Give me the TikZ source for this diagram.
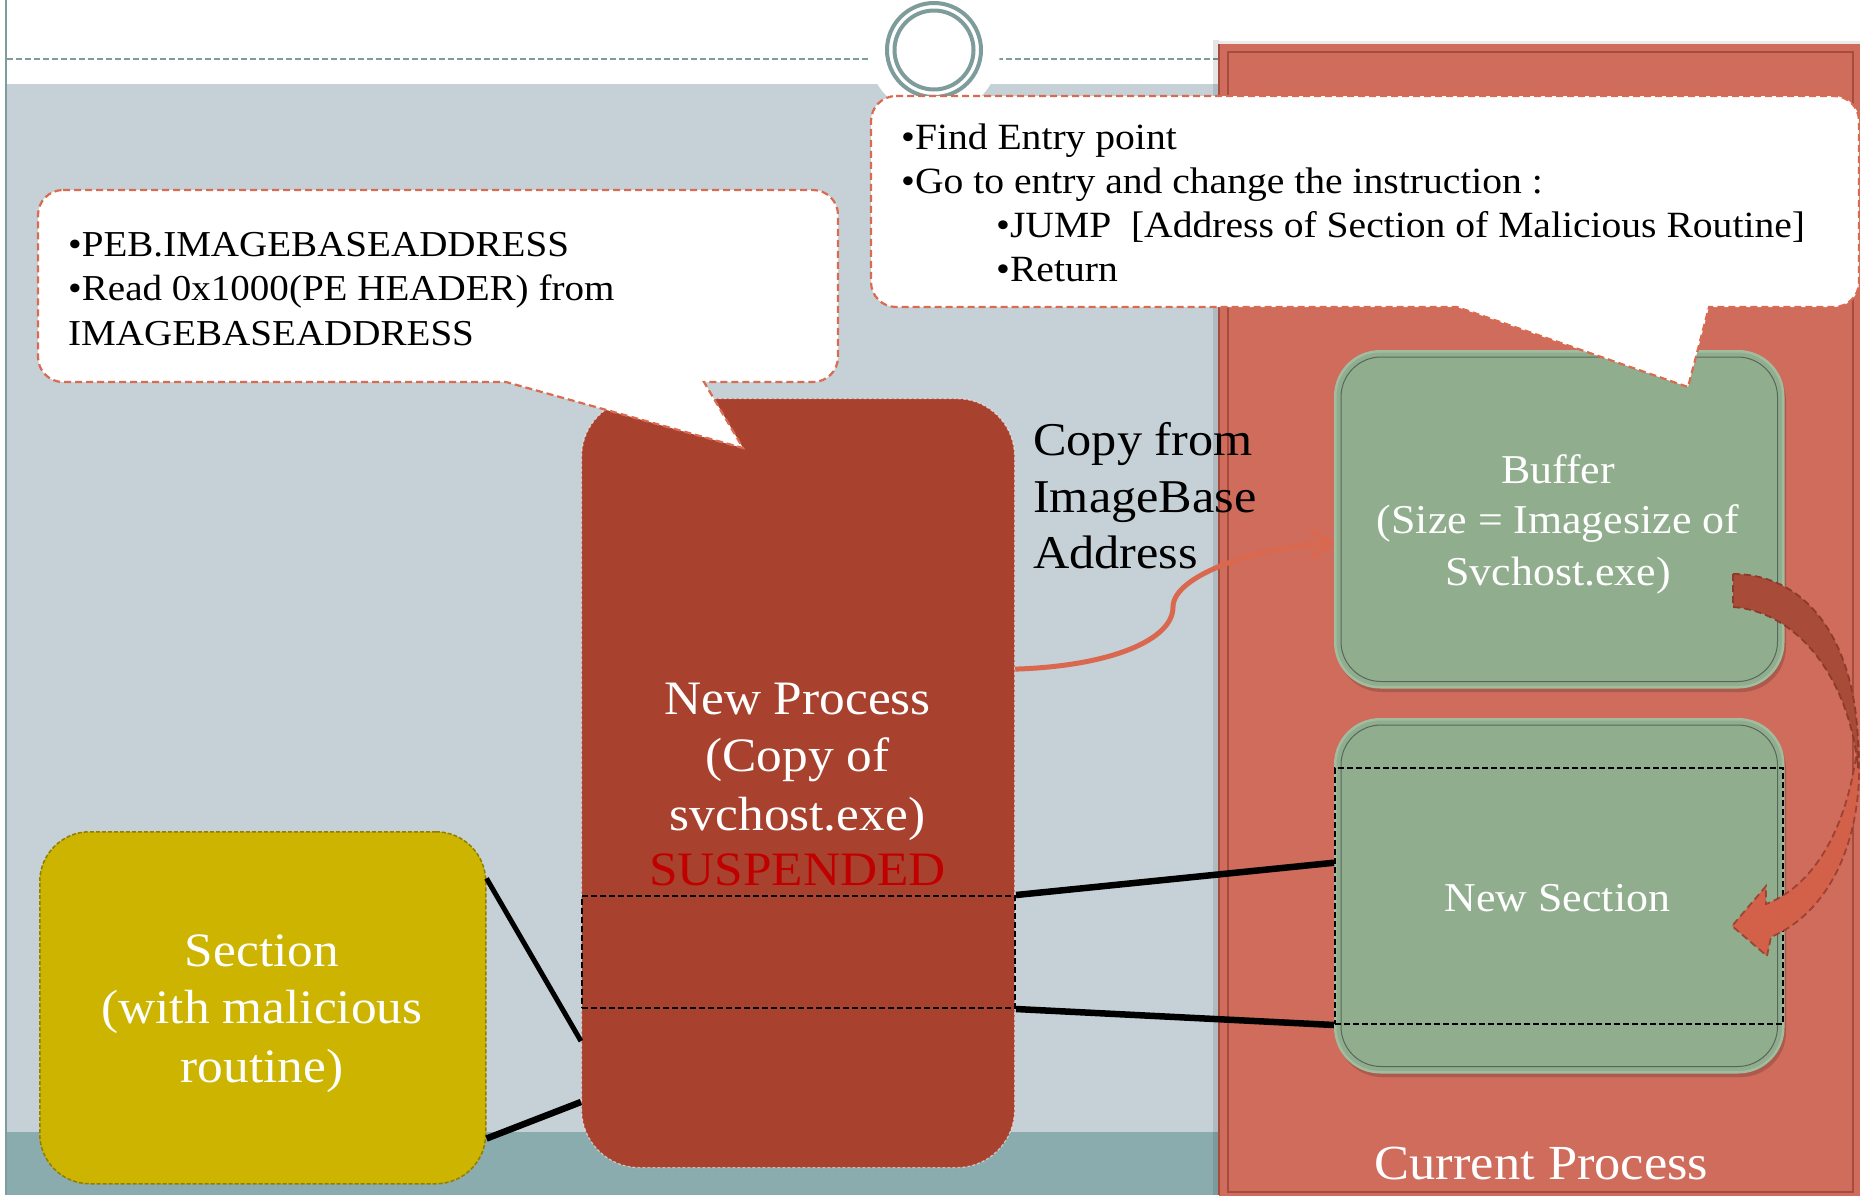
\documentclass[tikz,border=0pt]{standalone}
\usepackage{fontspec}
\setmainfont{Liberation Serif}[FakeStretch=1.07]
\usetikzlibrary{arrows.meta,calc}

\definecolor{slate}{HTML}{C5D1D7}
\definecolor{tealstrip}{HTML}{8BACAE}
\definecolor{rulegray}{HTML}{7E9C9B}
\definecolor{panel}{HTML}{CF6C5C}
\definecolor{panelline}{HTML}{A54C3E}
\definecolor{npfill}{HTML}{A8422E}
\definecolor{secfill}{HTML}{CCB400}
\definecolor{secline}{HTML}{8F7E00}
\definecolor{greenfill}{HTML}{90AE8E}
\definecolor{greenrim}{HTML}{A2BC9F}
\definecolor{greenline}{HTML}{56665A}
\definecolor{callline}{HTML}{DA6A50}
\definecolor{connc}{HTML}{D9684E}
\definecolor{arrowdark}{HTML}{A84C39}
\definecolor{arrowlight}{HTML}{D3614A}
\definecolor{arrowedge}{HTML}{8E3A2B}
\definecolor{suspred}{HTML}{C00000}

\tikzset{
  callout/.style={fill=white, draw=callline, line width=2.2pt, dash pattern=on 7pt off 4pt},
  calltext/.style={anchor=base west, inner sep=0pt, font=\fontsize{37}{44}\selectfont},
  boxtext/.style={anchor=base, inner sep=0pt, text=white},
  bigfont/.style={font=\fontsize{48}{57}\selectfont},
  midfont/.style={font=\fontsize{41}{50}\selectfont},
  greenbox/.style={rectangle, rounded corners=45pt, fill=greenfill, draw=greenrim,
    line width=2.5pt, minimum width=448pt, anchor=north west, inner sep=0pt},
  innerrim/.style={draw=greenline, line width=1pt, rounded corners=40pt},
  boxshadow/.style={fill=black, opacity=0.16, rounded corners=45pt},
  sectrect/.style={rectangle, draw=black, line width=2pt, dash pattern=on 6pt off 3pt,
    anchor=north west, inner sep=0pt},
  link/.style={draw=black, line width=6.5pt},
  conn/.style={draw=connc, line width=5pt, -{Straight Barb[length=18pt,width=26pt]}},
  ribbonedge/.style={draw=arrowedge, line width=1.8pt, dash pattern=on 7pt off 4pt},
}

\begin{document}
\begin{tikzpicture}[x=1pt,y=-1pt]
% page
\useasboundingbox (0,0) rectangle (1860,1195);
\fill[white] (0,0) rectangle (1860,1195);

% slide background bands
\fill[slate] (7,84) rectangle (1219,1132);
\fill[tealstrip] (7,1132) rectangle (1219,1195);
\draw[rulegray, line width=2pt] (6,0) -- (6,1195);
\draw[rulegray, line width=2pt, dash pattern=on 6pt off 3pt] (7,59) -- (1219,59);

% title ring with its white halo
\fill[white] (934,50) circle[radius=66];
\draw[rulegray, line width=4pt] (934,50) circle[radius=47];
\draw[rulegray, line width=4pt] (934,50) circle[radius=39.5];

% current process panel
\fill[black, opacity=0.10] (1213,40) rectangle (1219,1195);
\fill[black, opacity=0.08] (1219,41) rectangle (1860,44);
\fill[panel] (1219,44) rectangle (1870,1205);
\draw[panelline, line width=1.2pt] (1219,44) -- (1219,1195);
\draw[panelline, line width=1.8pt] (1228,52) rectangle (1853,1192);
\node[boxtext, font=\fontsize{49}{58}\selectfont] (curlabel) at (1541.5,1179) {Current Process};

% buffer and new section boxes
\fill[boxshadow] (1337,356) rectangle (1786,692);
\node[greenbox, minimum height=336pt] (buf) at (1334,350) {};
\draw[innerrim] ($(buf.north west)+(7,7)$) rectangle ($(buf.south east)+(-7,-7)$);
\fill[boxshadow] (1337,724) rectangle (1786,1077);
\node[greenbox, minimum height=353pt] (ns) at (1334,718) {};
\draw[innerrim] ($(ns.north west)+(7,7)$) rectangle ($(ns.south east)+(-7,-7)$);
\node[sectrect, minimum width=448pt, minimum height=256pt] (nssec) at (1334,767) {};

\node[boxtext, midfont] (buf1) at (1558,483) {Buffer};
\node[boxtext, midfont] (buf2) at (1558,533) {(Size = Imagesize of};
\node[boxtext, midfont] (buf3) at (1558,585) {Svchost.exe)};
\node[boxtext, midfont] (nslabel) at (1557.5,911) {New Section};

% new process box
\node[rectangle, rounded corners=58pt, fill=npfill, draw=white, draw opacity=0.55,
  line width=1.2pt, dash pattern=on 3pt off 2pt, minimum width=433pt, minimum height=769pt,
  anchor=north west, inner sep=0pt] (np) at (581,398) {};
\node[sectrect, minimum width=433pt, minimum height=112pt] (npsec) at (581,895) {};
\node[boxtext, bigfont] (np1) at (797.5,714) {New Process};
\node[boxtext, bigfont] (np2) at (797.5,771) {(Copy of};
\node[boxtext, bigfont] (np3) at (797.5,830) {svchost.exe)};
\node[boxtext, bigfont, text=suspred] (np4) at (797.5,885) {SUSPENDED};

% section with the malicious routine
\node[rectangle, rounded corners=50pt, fill=secfill, draw=secline, line width=1.5pt,
  dash pattern=on 4pt off 2pt, minimum width=446pt, minimum height=352pt,
  anchor=north west, inner sep=0pt] (sec) at (39,831) {};
\node[boxtext, bigfont] (sec1) at (262,966) {Section};
\node[boxtext, bigfont] (sec2) at (262,1023) {(with malicious};
\node[boxtext, bigfont] (sec3) at (262,1082) {routine)};

% mapping lines
\draw[link] (npsec.north east) -- ($(nssec.north west)!0.371!(nssec.south west)$);
\draw[link] (npsec.south east) -- (nssec.south west);
\draw[link, line width=5pt] ($(sec.north east)!0.134!(sec.south east)$) -- ($(np.north west)!0.835!(np.south west)$);
\draw[link] ($(sec.north east)!0.87!(sec.south east)$) -- ($(np.north west)!0.914!(np.south west)$);

% copy arrow
\node[anchor=base west, inner sep=0pt, font=\fontsize{47}{56}\selectfont] (cp1) at (1033,455) {Copy from};
\node[anchor=base west, inner sep=0pt, font=\fontsize{47}{56}\selectfont] (cp2) at (1033,512) {ImageBase};
\node[anchor=base west, inner sep=0pt, font=\fontsize{47}{56}\selectfont] (cp3) at (1033,568) {Address};
\coordinate (bend) at (1173,607);
\draw[conn] ($(np.north east)!0.352!(np.south east)$) .. controls +(95,-3) and +(0,33) .. (bend)
  .. controls +(0,-32) and +(-75,3) .. ($(buf.north west)!0.571!(buf.south west)$);

% curved block arrow from buffer to new section
\fill[arrowlight] (1858,740) .. controls (1866,830) and (1834,910) .. (1771,937) -- (1767,956)
  -- (1732,926) -- (1766,886) -- (1766,904) .. controls (1818,884) and (1850,820) .. (1858,740) -- cycle;
\draw[ribbonedge, draw opacity=0.8] (1858,740) .. controls (1866,830) and (1834,910) .. (1771,937) -- (1767,956)
  -- (1732,926) -- (1766,886) -- (1766,904) .. controls (1818,884) and (1850,820) .. (1858,740) -- cycle;
\fill[arrowdark] (1733,574) .. controls (1812,574) and (1862,650) .. (1858,768)
  .. controls (1850,682) and (1800,612) .. (1733,607) -- cycle;
\draw[ribbonedge] (1733,574) .. controls (1812,574) and (1862,650) .. (1858,768)
  .. controls (1850,682) and (1800,612) .. (1733,607) -- cycle;

% left callout
\path[callout] (63,190) -- (813,190) arc[start angle=-90,end angle=0,radius=25]
  -- (838,357) arc[start angle=0,end angle=90,radius=25]
  -- (704,382) -- (743,448) -- (506,382)
  -- (63,382) arc[start angle=90,end angle=180,radius=25]
  -- (38,215) arc[start angle=180,end angle=270,radius=25] -- cycle;
\node[calltext, font=\fontsize{36.5}{44}\selectfont] (l1) at (68,256) {•PEB.IMAGEBASEADDRESS};
\node[calltext, font=\fontsize{36.5}{44}\selectfont] (l2) at (68,300) {•Read 0x1000(PE HEADER) from};
\node[calltext, font=\fontsize{36.5}{44}\selectfont] (l3) at (68,345) {IMAGEBASEADDRESS};

% right callout
\path[callout] (896,96) -- (1834,96) arc[start angle=-90,end angle=0,radius=25]
  -- (1859,282) arc[start angle=0,end angle=90,radius=25]
  -- (1709,307) -- (1688,387) -- (1457,307)
  -- (896,307) arc[start angle=90,end angle=180,radius=25]
  -- (871,121) arc[start angle=180,end angle=270,radius=25] -- cycle;
\node[calltext] (r1) at (901,149) {•Find Entry point};
\node[calltext] (r2) at (901,193) {•Go to entry and change the instruction :};
\node[calltext] (r3) at (996,237) {•JUMP\ \ [Address of Section of Malicious Routine]};
\node[calltext] (r4) at (996,281) {•Return};
\end{tikzpicture}
\end{document}
